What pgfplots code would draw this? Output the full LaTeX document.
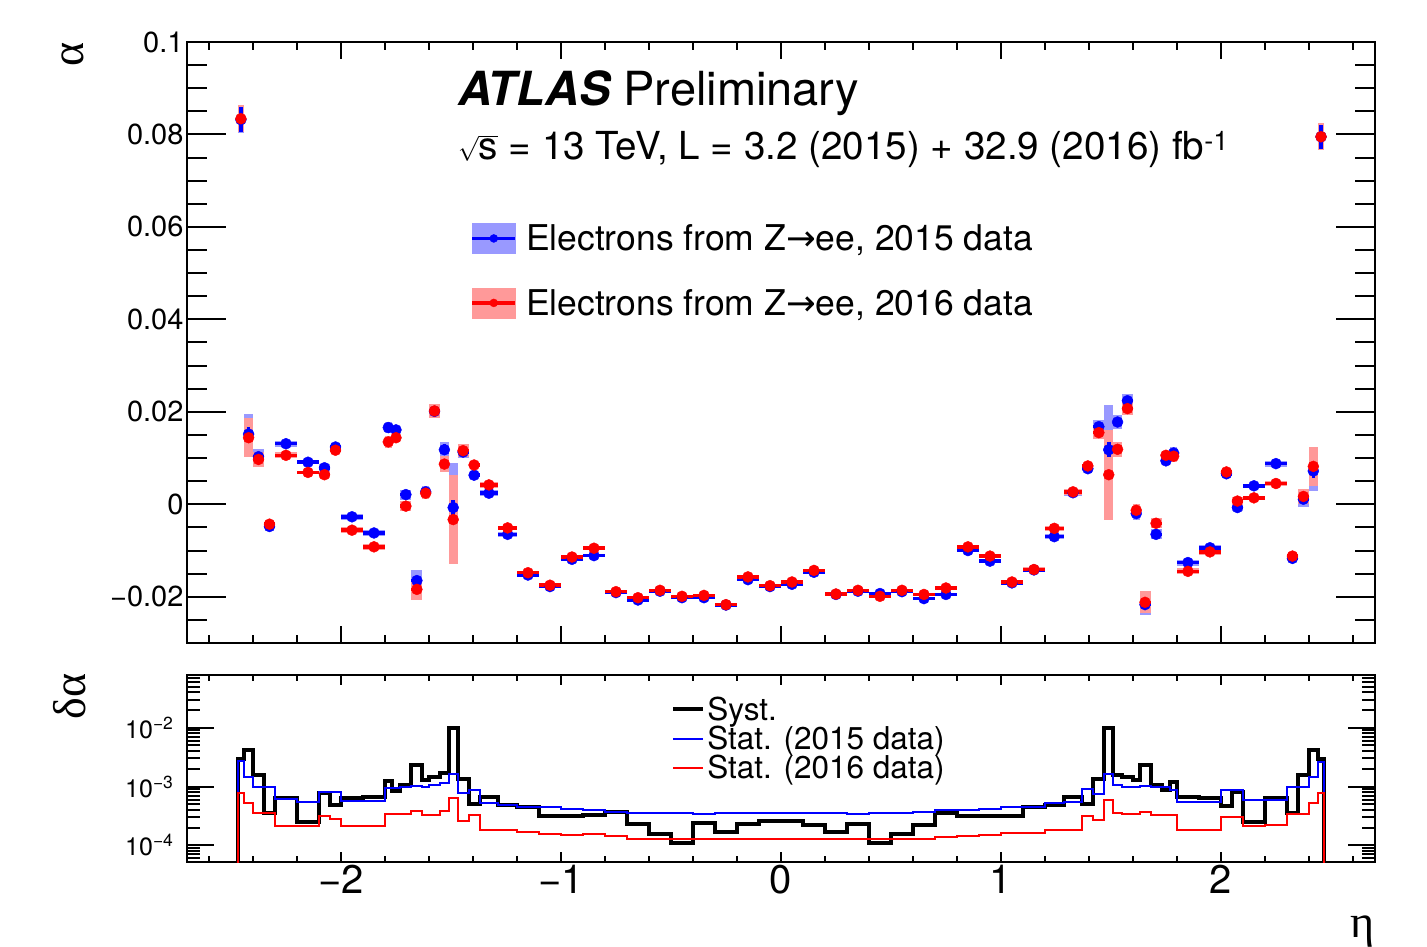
\documentclass[border=0pt]{standalone}
\usepackage{pgfplots}
\pgfplotsset{compat=1.18}
\usepackage{pgfplotstable}
\usepackage{fontspec}
\setmainfont{TeX Gyre Heros}
\newfontfamily\grk{Liberation Serif}
\newfontfamily\sym{DejaVu Sans}

% systematic band: a vertical bar +-syst, as wide as the bin (1 unit of eta = 220pt)
\pgfplotsset{
  band/.style n args={3}{draw=none, mark=none, forget plot,
    restrict expr to domain={\thisrow{hi}-\thisrow{lo}}{#1},
    error bars/.cd, y dir=both, y explicit, error mark=none,
    error bar style={line width=#2, draw=#3, line cap=butt}},
}

% lo hi alpha2015 stat2015 alpha2016 stat2016 syst
\pgfplotstableread{
lo hi a15 e15 a16 e16 sy
-2.47 -2.44 0.0832 0.00268 0.0834 0.00077 0.00294
-2.44 -2.40 0.0152 0.00148 0.0144 0.00052 0.00425
-2.40 -2.35 0.0103 0.00100 0.0097 0.00035 0.00158
-2.35 -2.30 -0.0048 0.00100 -0.0043 0.00035 0.00035
-2.30 -2.20 0.0131 0.00061 0.0106 0.00021 0.00063
-2.20 -2.10 0.0091 0.00055 0.0069 0.00021 0.00025
-2.10 -2.05 0.0079 0.00082 0.0064 0.00031 0.00077
-2.05 -2.00 0.0124 0.00082 0.0117 0.00028 0.00049
-2.00 -1.90 -0.0027 0.00057 -0.0056 0.00021 0.00063
-1.90 -1.80 -0.0062 0.00057 -0.0092 0.00021 0.00066
-1.80 -1.77 0.0166 0.00094 0.0135 0.00034 0.00125
-1.77 -1.73 0.0161 0.00094 0.0144 0.00034 0.00085
-1.73 -1.68 0.0021 0.00100 -0.0004 0.00034 0.00107
-1.68 -1.63 -0.0165 0.00104 -0.0184 0.00039 0.00235
-1.63 -1.60 0.0027 0.00100 0.0024 0.00033 0.00130
-1.60 -1.55 0.0201 0.00107 0.0202 0.00033 0.00148
-1.55 -1.51 0.0118 0.00114 0.0087 0.00039 0.00169
-1.51 -1.47 -0.0007 0.00165 -0.0033 0.00063 0.0097
-1.47 -1.42 0.0113 0.00077 0.0116 0.00026 0.00135
-1.42 -1.37 0.0063 0.00088 0.0085 0.00033 0.00050
-1.37 -1.285 0.0024 0.00053 0.0042 0.00018 0.00067
-1.285 -1.20 -0.0065 0.00049 -0.0051 0.00018 0.00049
-1.20 -1.10 -0.0153 0.00044 -0.0148 0.00017 0.00044
-1.10 -1.00 -0.0178 0.00044 -0.0175 0.000155 0.00032
-1.00 -0.90 -0.0119 0.00041 -0.0114 0.00015 0.00031
-0.90 -0.80 -0.0111 0.00040 -0.0095 0.000155 0.00033
-0.80 -0.70 -0.0191 0.00037 -0.0189 0.000143 0.00037
-0.70 -0.60 -0.0207 0.00036 -0.0202 0.00013 0.00023
-0.60 -0.50 -0.0188 0.00036 -0.0186 0.000127 0.000155
-0.50 -0.40 -0.0202 0.00035 -0.0199 0.000127 0.00011
-0.40 -0.30 -0.0202 0.00034 -0.0197 0.000127 0.00024
-0.30 -0.20 -0.0218 0.00035 -0.0217 0.000127 0.00017
-0.20 -0.10 -0.0163 0.00035 -0.0157 0.000127 0.00023
-0.10 0.00 -0.0178 0.00036 -0.0176 0.00013 0.00026
0.00 0.10 -0.0173 0.00036 -0.0168 0.00013 0.00026
0.10 0.20 -0.0147 0.00035 -0.0143 0.000127 0.00022
0.20 0.30 -0.0195 0.00035 -0.0194 0.000127 0.00017
0.30 0.40 -0.0188 0.00034 -0.0186 0.000127 0.000235
0.40 0.50 -0.0193 0.00035 -0.0199 0.000127 0.00011
0.50 0.60 -0.0189 0.00036 -0.0186 0.000127 0.000155
0.60 0.70 -0.0204 0.00037 -0.0195 0.00013 0.00022
0.70 0.80 -0.0195 0.00040 -0.0181 0.00014 0.00036
0.80 0.90 -0.0100 0.00040 -0.0092 0.000145 0.00031
0.90 1.00 -0.0123 0.00042 -0.0112 0.00015 0.00031
1.00 1.10 -0.0170 0.00044 -0.0168 0.00016 0.00032
1.10 1.20 -0.0142 0.00045 -0.0141 0.00016 0.00044
1.20 1.285 -0.0070 0.00052 -0.0052 0.000185 0.00049
1.285 1.37 0.0025 0.00055 0.0027 0.000185 0.00067
1.37 1.42 0.0077 0.00090 0.0083 0.00031 0.00050
1.42 1.47 0.0168 0.00075 0.0155 0.00027 0.00135
1.47 1.51 0.0118 0.00165 0.0064 0.00059 0.0097
1.51 1.55 0.0178 0.00107 0.0119 0.00036 0.00158
1.55 1.60 0.0224 0.00097 0.0207 0.00034 0.00148
1.60 1.63 -0.0020 0.00097 -0.0013 0.00034 0.00130
1.63 1.68 -0.0217 0.00103 -0.0212 0.00037 0.00235
1.68 1.73 -0.0065 0.00097 -0.0041 0.00033 0.00107
1.73 1.77 0.0094 0.00097 0.0106 0.00033 0.00088
1.77 1.80 0.0111 0.00088 0.0104 0.00033 0.00120
1.80 1.90 -0.0126 0.00055 -0.0145 0.000185 0.00066
1.90 2.00 -0.0094 0.00055 -0.0103 0.000185 0.00063
2.00 2.05 0.0066 0.00088 0.0070 0.00030 0.00047
2.05 2.10 -0.0007 0.00088 0.0007 0.00030 0.00082
2.10 2.20 0.0040 0.00060 0.0014 0.00021 0.00025
2.20 2.30 0.0088 0.00060 0.0045 0.00022 0.00063
2.30 2.35 -0.0117 0.00097 -0.0112 0.00034 0.00036
2.35 2.40 0.0011 0.00097 0.0017 0.00034 0.00158
2.40 2.44 0.0072 0.00148 0.0082 0.00052 0.00425
2.44 2.47 0.0795 0.00258 0.0795 0.00079 0.00294
}\tabUp

% lower panel histograms: bin low edge, syst, stat 2015, stat 2016 (padded ends)
\pgfplotstableread{
lo sy e15 e16
-2.47 1e-6 1e-6 1e-6
-2.47 0.00294 0.00268 0.00077
-2.44 0.00425 0.00148 0.00052
-2.40 0.00158 0.00100 0.00035
-2.35 0.00035 0.00100 0.00035
-2.30 0.00063 0.00061 0.00021
-2.20 0.00025 0.00055 0.00021
-2.10 0.00077 0.00082 0.00031
-2.05 0.00049 0.00082 0.00028
-2.00 0.00063 0.00057 0.00021
-1.90 0.00066 0.00057 0.00021
-1.80 0.00125 0.00094 0.00034
-1.77 0.00085 0.00094 0.00034
-1.73 0.00107 0.00100 0.00034
-1.68 0.00235 0.00104 0.00039
-1.63 0.00130 0.00100 0.00033
-1.60 0.00148 0.00107 0.00033
-1.55 0.00169 0.00114 0.00039
-1.51 0.0100 0.00165 0.00063
-1.47 0.00135 0.00077 0.00026
-1.42 0.00050 0.00088 0.00033
-1.37 0.00067 0.00053 0.00018
-1.285 0.00049 0.00049 0.00018
-1.20 0.00044 0.00044 0.00017
-1.10 0.00032 0.00044 0.000155
-1.00 0.00031 0.00041 0.00015
-0.90 0.00033 0.00040 0.000155
-0.80 0.00037 0.00037 0.000143
-0.70 0.00023 0.00036 0.00013
-0.60 0.000155 0.00036 0.000127
-0.50 0.00011 0.00035 0.000127
-0.40 0.00024 0.00034 0.000127
-0.30 0.00017 0.00035 0.000127
-0.20 0.00023 0.00035 0.000127
-0.10 0.00026 0.00036 0.00013
0.00 0.00026 0.00036 0.00013
0.10 0.00022 0.00035 0.000127
0.20 0.00017 0.00035 0.000127
0.30 0.000235 0.00034 0.000127
0.40 0.00011 0.00035 0.000127
0.50 0.000155 0.00036 0.000127
0.60 0.00022 0.00037 0.00013
0.70 0.00036 0.00040 0.00014
0.80 0.00031 0.00040 0.000145
0.90 0.00031 0.00042 0.00015
1.00 0.00032 0.00044 0.00016
1.10 0.00044 0.00045 0.00016
1.20 0.00049 0.00052 0.000185
1.285 0.00067 0.00055 0.000185
1.37 0.00050 0.00090 0.00031
1.42 0.00135 0.00075 0.00027
1.47 0.0100 0.00165 0.00059
1.51 0.00158 0.00107 0.00036
1.55 0.00148 0.00097 0.00034
1.60 0.00130 0.00097 0.00034
1.63 0.00235 0.00103 0.00037
1.68 0.00107 0.00097 0.00033
1.73 0.00088 0.00097 0.00033
1.77 0.00120 0.00088 0.00033
1.80 0.00066 0.00055 0.000185
1.90 0.00063 0.00055 0.000185
2.00 0.00047 0.00088 0.00030
2.05 0.00082 0.00088 0.00030
2.10 0.00025 0.00060 0.00021
2.20 0.00063 0.00060 0.00022
2.30 0.00036 0.00097 0.00034
2.35 0.00158 0.00097 0.00034
2.40 0.00425 0.00148 0.00052
2.44 0.00294 0.00258 0.00079
2.47 1e-6 1e-6 1e-6
}\tabLow

\begin{document}
\begin{tikzpicture}

\begin{axis}[
  at={(187pt,303pt)}, anchor=south west, scale only axis,
  width=1188pt, height=601pt,
  xmin=-2.7, xmax=2.7, ymin=-0.03, ymax=0.1,
  axis line style={line width=2pt},
  tick style={line width=2pt, black},
  major tick length=39pt, minor tick length=20pt,
  xtick style={/pgfplots/major tick length=17pt, /pgfplots/minor tick length=8pt},
  xtick={-2,-1,0,1,2}, xticklabels={},
  minor xtick={-2.6,-2.4,-2.2,-1.8,-1.6,-1.4,-1.2,-0.8,-0.6,-0.4,-0.2,0.2,0.4,0.6,0.8,1.2,1.4,1.6,1.8,2.2,2.4,2.6},
  ytick={-0.02,0,0.02,0.04,0.06,0.08,0.1},
  yticklabels={−0.02,0,0.02,0.04,0.06,0.08,0.1},
  minor ytick={-0.03,-0.025,-0.015,-0.01,-0.005,0.005,0.01,0.015,0.025,0.03,0.035,0.045,0.05,0.055,0.065,0.07,0.075,0.085,0.09,0.095},
  yticklabel style={font=\fontsize{29pt}{29pt}\selectfont},
  ylabel={\grk α},
  ylabel style={at={(rel axis cs:-0.096,1)}, anchor=east, inner sep=0pt, font=\fontsize{46pt}{46pt}\selectfont},
  legend cell align=left,
  legend style={at={(rel axis cs:0.236,0.703)}, anchor=north west, draw=none, fill=none,
    font=\fontsize{35.5pt}{35.5pt}\selectfont, row sep=33pt, column sep=7pt},
]
% systematic bands, one plot per bin width (0.03, 0.04, 0.05, 0.085, 0.1)
\addplot[band={0.025:0.035}{6.6pt}{blue!40}] table[x expr=(\thisrow{lo}+\thisrow{hi})/2, y=a15, y error=sy] {\tabUp};
\addplot[band={0.035:0.045}{8.8pt}{blue!40}] table[x expr=(\thisrow{lo}+\thisrow{hi})/2, y=a15, y error=sy] {\tabUp};
\addplot[band={0.045:0.055}{11pt}{blue!40}] table[x expr=(\thisrow{lo}+\thisrow{hi})/2, y=a15, y error=sy] {\tabUp};
\addplot[band={0.08:0.09}{18.7pt}{blue!40}] table[x expr=(\thisrow{lo}+\thisrow{hi})/2, y=a15, y error=sy] {\tabUp};
\addplot[band={0.095:0.105}{22pt}{blue!40}] table[x expr=(\thisrow{lo}+\thisrow{hi})/2, y=a15, y error=sy] {\tabUp};
\addplot[band={0.025:0.035}{6.6pt}{red!40}] table[x expr=(\thisrow{lo}+\thisrow{hi})/2, y=a16, y error=sy] {\tabUp};
\addplot[band={0.035:0.045}{8.8pt}{red!40}] table[x expr=(\thisrow{lo}+\thisrow{hi})/2, y=a16, y error=sy] {\tabUp};
\addplot[band={0.045:0.055}{11pt}{red!40}] table[x expr=(\thisrow{lo}+\thisrow{hi})/2, y=a16, y error=sy] {\tabUp};
\addplot[band={0.08:0.09}{18.7pt}{red!40}] table[x expr=(\thisrow{lo}+\thisrow{hi})/2, y=a16, y error=sy] {\tabUp};
\addplot[band={0.095:0.105}{22pt}{red!40}] table[x expr=(\thisrow{lo}+\thisrow{hi})/2, y=a16, y error=sy] {\tabUp};
% points with stat errors
\addplot[blue, only marks, mark=*, mark size=5.5pt, mark options={fill=blue}, forget plot,
  error bars/.cd, x dir=both, x explicit, y dir=both, y explicit,
  error bar style={line width=3.5pt}, error mark=none]
  table[x expr=(\thisrow{lo}+\thisrow{hi})/2, y=a15, x error expr=(\thisrow{hi}-\thisrow{lo})/2, y error=e15] {\tabUp};
\addplot[red, only marks, mark=*, mark size=5.5pt, mark options={fill=red}, forget plot,
  error bars/.cd, x dir=both, x explicit, y dir=both, y explicit,
  error bar style={line width=3.5pt}, error mark=none]
  table[x expr=(\thisrow{lo}+\thisrow{hi})/2, y=a16, x error expr=(\thisrow{hi}-\thisrow{lo})/2, y error=e16] {\tabUp};

\addlegendimage{legend image code/.code={
  \fill[blue!40] (0pt,-15pt) rectangle (43pt,15pt);
  \draw[blue, line width=3.5pt] (0pt,0pt) -- (43pt,0pt);
  \fill[blue] (21.5pt,0pt) circle (4pt);}}
\addlegendentry{Electrons from Z{\sym →}ee, 2015 data}
\addlegendimage{legend image code/.code={
  \fill[red!40] (0pt,-15pt) rectangle (43pt,15pt);
  \draw[red, line width=3.5pt] (0pt,0pt) -- (43pt,0pt);
  \fill[red] (21.5pt,0pt) circle (4pt);}}
\addlegendentry{Electrons from Z{\sym →}ee, 2016 data}

\node[anchor=base west, inner sep=0pt, font=\fontsize{47pt}{47pt}\selectfont] at (rel axis cs:0.228,0.895) {{\bfseries\itshape ATLAS} Preliminary};
\node[anchor=base west, inner sep=0pt, font=\fontsize{38.6pt}{38.6pt}\selectfont] at (rel axis cs:0.228,0.804) {$\sqrt{\mbox{s}}$ = 13 TeV, L = 3.2 (2015) + 32.9 (2016) fb\textsuperscript{-1}};
\end{axis}

\begin{axis}[
  at={(187pt,84pt)}, anchor=south west, scale only axis,
  width=1188pt, height=187pt,
  xmin=-2.7, xmax=2.7,
  ymode=log, log basis y=10, ymin=5.2e-5, ymax=0.079,
  axis line style={line width=2pt},
  tick style={line width=2pt, black},
  major tick length=27pt, minor tick length=13pt,
  xtick style={/pgfplots/major tick length=10pt, /pgfplots/minor tick length=6pt},
  xtick={-2,-1,0,1,2}, xticklabels={−2,−1,0,1,2},
  minor xtick={-2.6,-2.4,-2.2,-1.8,-1.6,-1.4,-1.2,-0.8,-0.6,-0.4,-0.2,0.2,0.4,0.6,0.8,1.2,1.4,1.6,1.8,2.2,2.4,2.6},
  xticklabel style={font=\fontsize{40pt}{40pt}\selectfont},
  ytick={1e-4,1e-3,1e-2},
  yticklabels={10\textsuperscript{−4},10\textsuperscript{−3},10\textsuperscript{−2}},
  minor ytick={6e-5,7e-5,8e-5,9e-5,2e-4,3e-4,4e-4,5e-4,6e-4,7e-4,8e-4,9e-4,2e-3,3e-3,4e-3,5e-3,6e-3,7e-3,8e-3,9e-3,2e-2,3e-2,4e-2,5e-2,6e-2,7e-2},
  yticklabel style={font=\fontsize{25pt}{25pt}\selectfont, xshift=-10pt},
  xlabel={\grk η},
  xlabel style={at={(rel axis cs:1,-0.406)}, anchor=base east, inner sep=0pt, font=\fontsize{46pt}{46pt}\selectfont},
  ylabel={\grk δα},
  ylabel style={at={(rel axis cs:-0.0985,1.01)}, anchor=east, inner sep=0pt, font=\fontsize{46pt}{46pt}\selectfont},
  legend cell align=left,
  legend image code/.code={\draw[#1] (0pt,0pt) -- (30pt,0pt);},
  legend style={at={(rel axis cs:0.405,0.905)}, anchor=north west, draw=none, fill=none,
    font=\fontsize{31.5pt}{31.5pt}\selectfont, row sep=0pt},
]
\addplot[black, line width=4pt, const plot mark left] table[x=lo, y=sy] {\tabLow};
\addlegendentry{Syst.}
\addplot[blue, line width=2pt, const plot mark left] table[x=lo, y=e15] {\tabLow};
\addlegendentry{Stat. (2015 data)}
\addplot[red, line width=2pt, const plot mark left] table[x=lo, y=e16] {\tabLow};
\addlegendentry{Stat. (2016 data)}
\end{axis}

\pgfresetboundingbox
\path[use as bounding box] (0,0) rectangle (1427pt,946pt);
\end{tikzpicture}
\end{document}
